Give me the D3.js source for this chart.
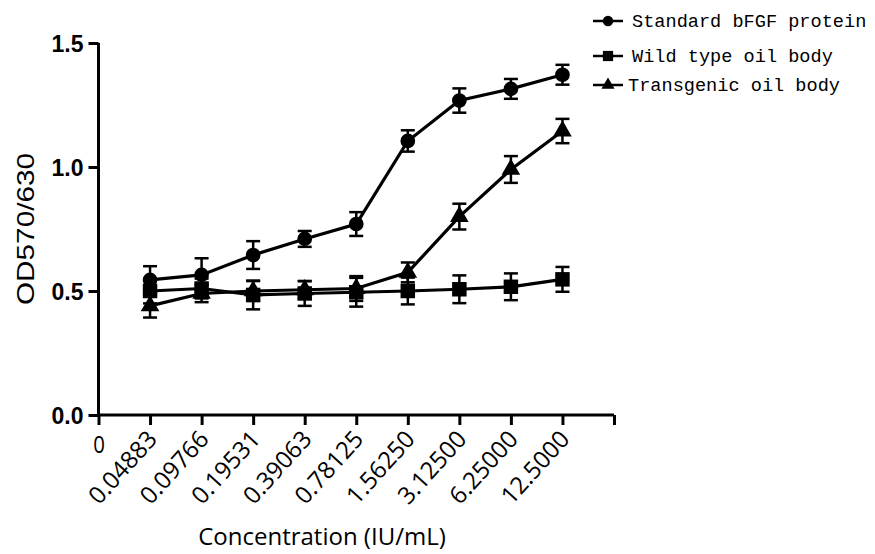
<!DOCTYPE html>
<html>
<head>
<meta charset="utf-8">
<script src="https://cdn.jsdelivr.net/npm/d3@7"></script>
<style>
body { margin: 0; background: #fff; }
svg { display: block; }
.ytick text { font: bold 23px "Liberation Sans", Arial, sans-serif; }
.xtick text { font: 500 24px "Open Sans", sans-serif; }
.legend text { font: 18.6px "Liberation Mono", monospace; }
</style>
</head>
<body>
<div id="chart"></div>
<script>

// concentrations (IU/mL), x positions 1..9 ; position 0 is labelled "0"
var concLabels = ["0.04883", "0.09766", "0.19531", "0.39063", "0.78125", "1.56250", "3.12500", "6.25000", "12.5000"];

var seriesNames = ["Standard bFGF protein", "Wild type oil body", "Transgenic oil body"];

var bfgfMean = [0.545, 0.565, 0.645, 0.71, 0.77, 1.105, 1.268, 1.315, 1.372];
var bfgfErr  = [0.055, 0.067, 0.056, 0.032, 0.048, 0.043, 0.049, 0.04, 0.04];

var wildMean = [0.50, 0.51, 0.484, 0.49, 0.495, 0.50, 0.507, 0.517, 0.547];
var wildErr  = [0.05, 0.04, 0.058, 0.05, 0.058, 0.054, 0.056, 0.054, 0.05];

var transMean = [0.44, 0.49, 0.50, 0.505, 0.51, 0.575, 0.80, 0.99, 1.145];
var transErr  = [0.047, 0.035, 0.04, 0.035, 0.05, 0.04, 0.052, 0.054, 0.049];

var yTicks = [0, 0.5, 1.0, 1.5];

var W = 875, H = 554;

var svg = d3.select("#chart").append("svg")
    .attr("width", W)
    .attr("height", H);

var x = d3.scaleLinear().domain([0, 10]).range([98.5, 614]);
var y = d3.scaleLinear().domain([0, 1.5]).range([415, 43]);

// y axis
var yAxis = svg.append("g")
    .attr("class", "ytick")
    .attr("transform", "translate(" + x(0) + ",0)")
    .call(d3.axisLeft(y).tickValues(yTicks).tickFormat(d3.format(".1f")).tickSize(10).tickPadding(5));
yAxis.selectAll("path, line").attr("stroke", "#000").attr("stroke-width", 3);
yAxis.select("path").attr("d", "M0," + y(1.5) + "V" + y(0));
yAxis.selectAll("text").attr("fill", "#000").attr("dy", "0.36em");

// x axis
var xAxis = svg.append("g")
    .attr("class", "xtick")
    .attr("transform", "translate(0," + y(0) + ")")
    .call(d3.axisBottom(x).tickValues(d3.range(0, 11)).tickSize(10)
      .tickFormat(function(d) { return d == 0 ? "0" : (d <= 9 ? concLabels[d - 1] : ""); }));
xAxis.selectAll("path, line").attr("stroke", "#000").attr("stroke-width", 3);
xAxis.select("path").attr("d", "M" + x(0) + ",0H" + x(10));
xAxis.selectAll("text").attr("fill", "#000");
xAxis.selectAll(".tick").filter(function(d) { return d > 0; }).select("text")
    .attr("text-anchor", "end")
    .attr("y", 0)
    .attr("dy", 0)
    .attr("transform", "translate(8,25) rotate(-48)");
xAxis.selectAll(".tick").filter(function(d) { return d == 0; }).select("text")
    .attr("y", 21)
    .attr("dy", "0.72em")
    .attr("transform", "scale(0.85,1)");

// axis titles
svg.append("text")
    .attr("transform", "translate(34,229) rotate(-90)")
    .attr("text-anchor", "middle")
    .attr("textLength", 152)
    .attr("lengthAdjust", "spacingAndGlyphs")
    .style("font", "24px 'Liberation Sans', Arial, sans-serif")
    .text("OD570/630");

svg.append("text")
    .attr("x", 322)
    .attr("y", 545)
    .attr("text-anchor", "middle")
    .style("font", "500 24px 'Open Sans', sans-serif")
    .text("Concentration (IU/mL)");

// series
var series = [
  {name: seriesNames[0], mean: bfgfMean, err: bfgfErr, sym: d3.symbolCircle, size: 170},
  {name: seriesNames[1], mean: wildMean, err: wildErr, sym: d3.symbolSquare, size: 210},
  {name: seriesNames[2], mean: transMean, err: transErr, sym: d3.symbolTriangle, size: 150}
];

var line = d3.line()
    .x(function(d, i) { return x(i + 1); })
    .y(function(d) { return y(d); });

var capW = 7;

series.forEach(function(s) {
  var g = svg.append("g");

  // error bars
  var eb = g.selectAll(".eb").data(s.mean).enter().append("g");
  eb.append("line")
      .attr("x1", function(d, i) { return x(i + 1); })
      .attr("x2", function(d, i) { return x(i + 1); })
      .attr("y1", function(d, i) { return y(d - s.err[i]); })
      .attr("y2", function(d, i) { return y(d + s.err[i]); })
      .attr("stroke", "#000").attr("stroke-width", 2.5);
  eb.append("line")
      .attr("x1", function(d, i) { return x(i + 1) - capW; })
      .attr("x2", function(d, i) { return x(i + 1) + capW; })
      .attr("y1", function(d, i) { return y(d + s.err[i]); })
      .attr("y2", function(d, i) { return y(d + s.err[i]); })
      .attr("stroke", "#000").attr("stroke-width", 2.5);
  eb.append("line")
      .attr("x1", function(d, i) { return x(i + 1) - capW; })
      .attr("x2", function(d, i) { return x(i + 1) + capW; })
      .attr("y1", function(d, i) { return y(d - s.err[i]); })
      .attr("y2", function(d, i) { return y(d - s.err[i]); })
      .attr("stroke", "#000").attr("stroke-width", 2.5);

  g.append("path")
      .datum(s.mean)
      .attr("d", line)
      .attr("fill", "none")
      .attr("stroke", "#000")
      .attr("stroke-width", 3.2);

  g.selectAll(".pt").data(s.mean).enter().append("path")
      .attr("transform", function(d, i) { return "translate(" + x(i + 1) + "," + y(d) + ")"; })
      .attr("d", d3.symbol().type(s.sym).size(s.size))
      .attr("fill", "#000");
});

// legend
var legend = svg.append("g").attr("class", "legend");
var legY = [21, 56, 85];
series.forEach(function(s, i) {
  var row = legend.append("g").attr("transform", "translate(593," + legY[i] + ")");
  row.append("line").attr("x1", 0).attr("x2", 30).attr("stroke", "#000").attr("stroke-width", 2.5);
  row.append("path").attr("transform", "translate(15,0)")
      .attr("d", d3.symbol().type(s.sym).size(s.size * 0.5))
      .attr("fill", "#000");
  row.append("text").attr("x", i == 2 ? 35 : 39).attr("y", 0).attr("dy", "0.32em").text(s.name);
});

</script>
</body>
</html>
